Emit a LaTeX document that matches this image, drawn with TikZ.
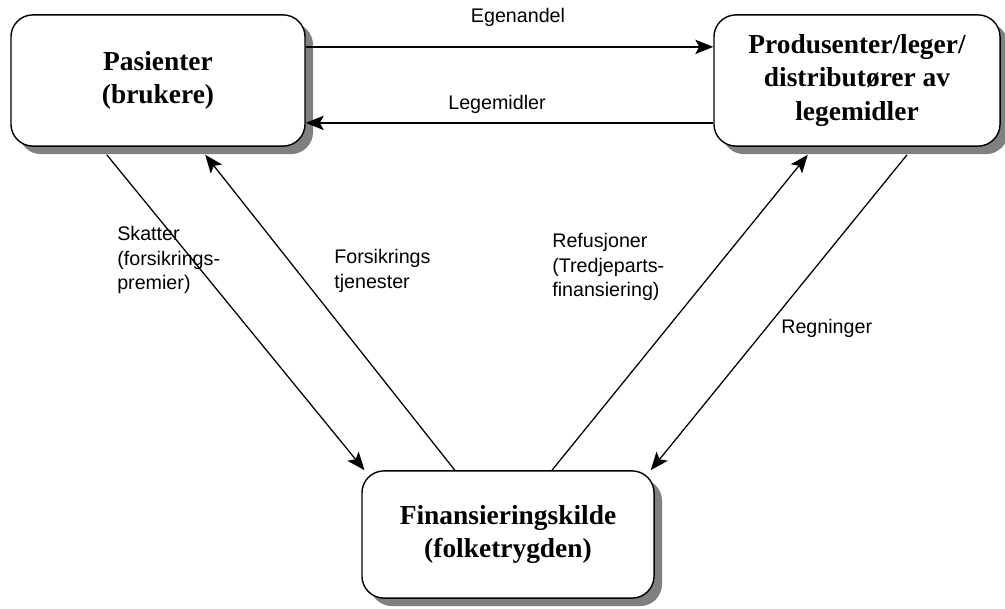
\documentclass[tikz,border=0pt]{standalone}
\usepackage{fontspec}
\setmainfont{Liberation Serif}
\newfontfamily\labelfont{Liberation Sans}
\usetikzlibrary{arrows.meta,shadows}
\tikzset{
  party/.style={draw=black,line width=1pt,rounded corners=0.55cm,fill=white,
    align=center,font=\fontsize{19.5}{24}\selectfont\bfseries,
    drop shadow={shadow xshift=0.2cm,shadow yshift=-0.2cm,fill=black!50,opacity=1}},
  flow/.style={draw=black,line width=0.9pt,-{Stealth[length=0.45cm,width=0.36cm,inset=0.1cm]}},
  flowlabel/.style={font=\labelfont\fontsize{14}{17.4}\selectfont,align=left,inner sep=0pt},
}
\begin{document}
\begin{tikzpicture}[x=0.025cm,y=-0.025cm]
\useasboundingbox (0,0) rectangle (1005,609);
% the three parties
\node[party,minimum width=7.35cm,minimum height=3.28cm] (pas) at (158,80.5) {Pasienter\\(brukere)};
\node[party,minimum width=7.15cm,minimum height=3.28cm] (prod) at (857,80.5) {Produsenter/leger/\\distributører av\\legemidler};
\node[party,minimum width=7.3cm,minimum height=3.18cm] (fin) at (508,534.5) {Finansieringskilde\\(folketrygden)};
% flows between them
\draw[flow] ([yshift=0.84cm]pas.east) -- ([yshift=0.84cm]prod.west);
\draw[flow] ([yshift=-1.06cm]prod.west) -- ([yshift=-1.06cm]pas.east);
\draw[flow] ([xshift=-1.28cm,yshift=-0.2cm]pas.south) -- ([xshift=0.08cm]fin.north west);
\draw[flow] ([xshift=-1.33cm]fin.north) -- ([xshift=1.18cm,yshift=-0.2cm]pas.south);
\draw[flow] ([xshift=1.1cm]fin.north) -- ([xshift=-1.23cm,yshift=-0.2cm]prod.south);
\draw[flow] ([xshift=1.25cm,yshift=-0.2cm]prod.south) -- ([xshift=-0.1cm]fin.north east);
% labels
\node[flowlabel] (egen) at (518,17) {Egenandel};
\node[flowlabel] (lege) at (497,104) {Legemidler};
\node[flowlabel,anchor=west] (skatt) at (117,260) {Skatter\\(forsikrings-\\premier)};
\node[flowlabel,anchor=west] (fors) at (334,271) {Forsikrings\\tjenester};
\node[flowlabel,anchor=west] (refu) at (552,267) {Refusjoner\\(Tredjeparts-\\finansiering)};
\node[flowlabel,anchor=west] (regn) at (781,328) {Regninger};
\end{tikzpicture}
\end{document}
